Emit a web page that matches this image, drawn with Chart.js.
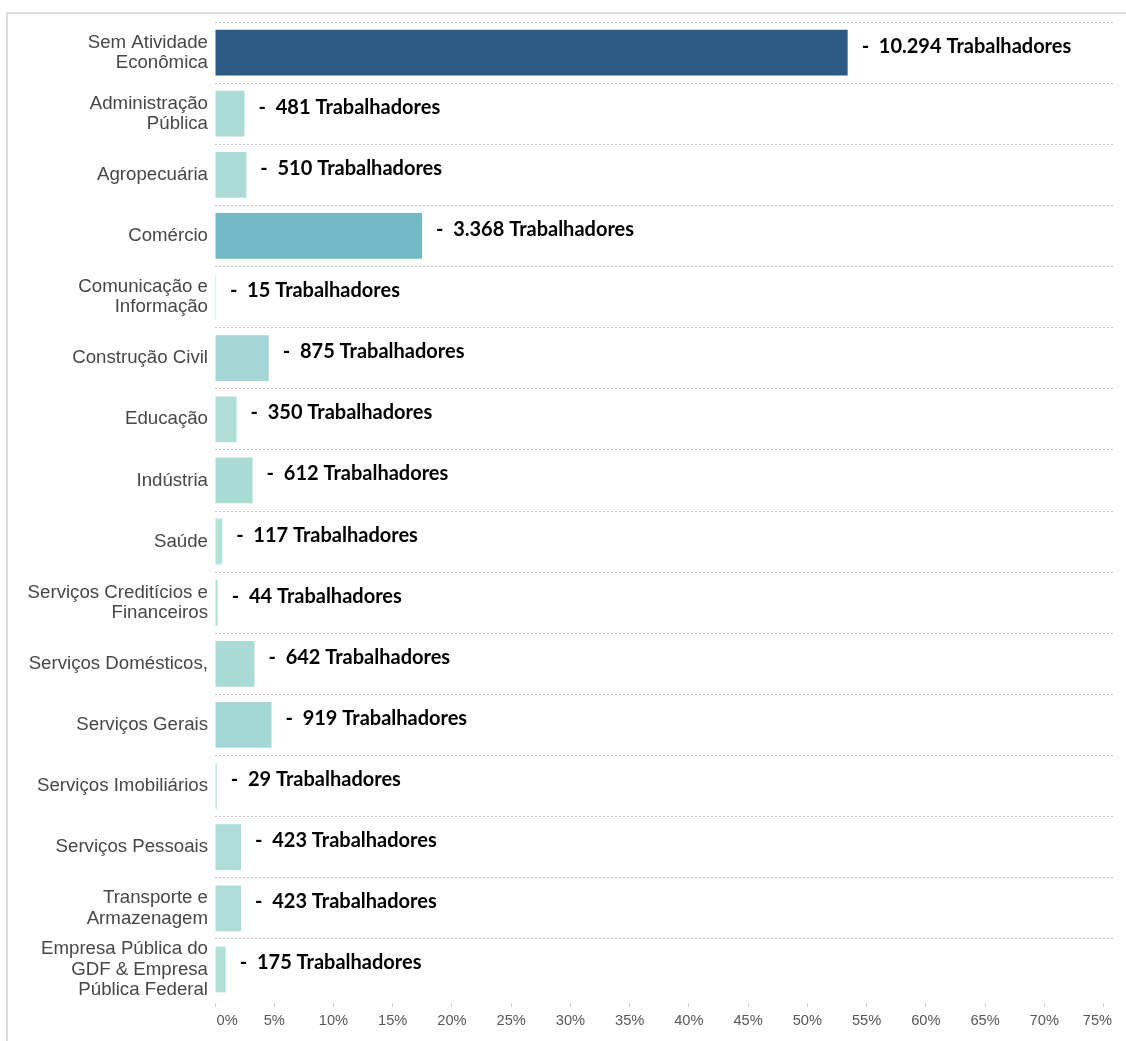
<!DOCTYPE html>
<html lang="pt-BR">
<head>
<meta charset="utf-8">
<title>Trabalhadores por atividade econômica</title>
<script src="https://cdn.jsdelivr.net/npm/chart.js@4.4.0/dist/chart.umd.min.js"></script>
<style>
  html, body { margin: 0; padding: 0; background: #fff; }
  #wrap { position: relative; width: 1126px; height: 1041px; overflow: hidden; }
  #frame {
    position: absolute; left: 6px; top: 12px; right: 0; bottom: 0;
    border-top: 2px solid #dcdcdc; border-left: 2px solid #dcdcdc;
  }
  #chart { position: absolute; left: 0; top: 0; }
</style>
</head>
<body>
<div id="wrap">
  <div id="frame"></div>
  <canvas id="chart" width="1126" height="1041"></canvas>
</div>
<script>
// categorias (rótulos do eixo vertical)
const categories = [
  ['Sem Atividade', 'Econômica'],
  ['Administração', 'Pública'],
  'Agropecuária',
  'Comércio',
  ['Comunicação e', 'Informação'],
  'Construção Civil',
  'Educação',
  'Indústria',
  'Saúde',
  ['Serviços Creditícios e', 'Financeiros'],
  'Serviços Domésticos,',
  'Serviços Gerais',
  'Serviços Imobiliários',
  'Serviços Pessoais',
  ['Transporte e', 'Armazenagem'],
  ['Empresa Pública do', 'GDF & Empresa', 'Pública Federal']
];

// número de trabalhadores por atividade
const workers = [10294, 481, 510, 3368, 15, 875, 350, 612, 117, 44, 642, 919, 29, 423, 423, 175];

// eixo X (percentual)
const axisMin = 0;
const axisMax = 75.8;
const tickStep = 5;

const total = workers.reduce((a, b) => a + b, 0);
const shares = workers.map(v => v / total * 100);

// escala de cor sequencial (claro -> azul escuro)
const rampStops = [
  { at: 0, rgb: [182, 226, 217] },
  { at: 3368, rgb: [114, 185, 197] },
  { at: 10294, rgb: [45, 89, 134] }
];

function rampColor(v) {
  for (let i = 1; i < rampStops.length; i++) {
    const a = rampStops[i - 1], b = rampStops[i];
    if (v <= b.at || i === rampStops.length - 1) {
      const t = Math.max(0, Math.min(1, (v - a.at) / (b.at - a.at)));
      const c = a.rgb.map((x, k) => Math.round(x + (b.rgb[k] - x) * t));
      return `rgb(${c[0]},${c[1]},${c[2]})`;
    }
  }
}

function formatNumber(n) {
  return String(n).replace(/\B(?=(\d{3})+(?!\d))/g, '.');
}

// rótulos à direita das barras
const valueLabels = {
  id: 'valueLabels',
  afterDatasetsDraw(chart) {
    const { ctx } = chart;
    const meta = chart.getDatasetMeta(0);
    ctx.save();
    ctx.font = 'bold 20px Lato, "Open Sans", sans-serif';
    ctx.fillStyle = '#000';
    ctx.textAlign = 'left';
    ctx.textBaseline = 'alphabetic';
    meta.data.forEach((bar, i) => {
      const text = '-  ' + formatNumber(workers[i]) + ' Trabalhadores';
      ctx.fillText(text, bar.x + 14, bar.y);
    });
    ctx.restore();
  }
};

// sem margens automáticas dos eixos
function noPadding(scale) {
  scale.paddingTop = 0;
  scale.paddingBottom = 0;
  scale.paddingLeft = 0;
  scale.paddingRight = 0;
}

new Chart(document.getElementById('chart'), {
  type: 'bar',
  data: {
    labels: categories,
    datasets: [{
      data: shares,
      backgroundColor: workers.map(rampColor),
      borderWidth: 0,
      categoryPercentage: 1,
      barPercentage: 0.75
    }]
  },
  options: {
    indexAxis: 'y',
    responsive: false,
    animation: false,
    layout: { padding: { top: 22, right: 13, bottom: 0, left: 0 } },
    plugins: {
      legend: { display: false },
      tooltip: { enabled: false }
    },
    scales: {
      y: {
        afterFit: (scale) => { scale.width = 215; noPadding(scale); },
        border: { display: false, dash: [2, 2] },
        grid: {
          drawTicks: false,
          offset: true,
          color: (c) => c.type === 'tick' ? '#c4c4c4' : 'rgba(0,0,0,0)',
          lineWidth: 1
        },
        ticks: {
          autoSkip: false,
          padding: 7,
          color: '#474747',
          font: { family: '"Liberation Sans", Arial, sans-serif', size: 18.67, lineHeight: 1.08 }
        }
      },
      x: {
        min: axisMin,
        max: axisMax,
        afterFit: (scale) => { scale.height = 41; noPadding(scale); },
        border: { display: false },
        grid: {
          drawOnChartArea: false,
          drawTicks: true,
          tickLength: 8,
          tickColor: '#cfcfcf',
          tickBorderDash: [0, 3, 4, 40],
          lineWidth: 1
        },
        ticks: {
          stepSize: tickStep,
          includeBounds: false,
          autoSkip: false,
          maxRotation: 0,
          padding: 4,
          color: '#585858',
          font: { family: '"Liberation Sans", Arial, sans-serif', size: 14.67 },
          callback: (v) => {
            if (v === 0) return '      0%';
            if (v === 75) return '75%   ';
            return v + '%';
          }
        }
      }
    }
  },
  plugins: [valueLabels]
});
</script>
</body>
</html>
